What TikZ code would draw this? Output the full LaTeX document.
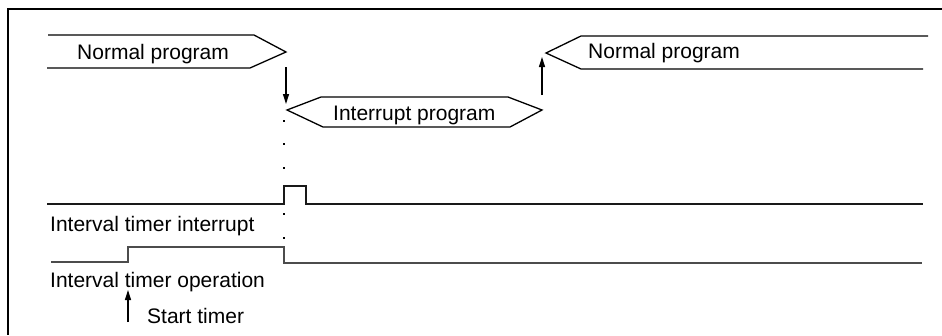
\documentclass[tikz,border=0pt]{standalone}
\usepackage{fontspec}
\setmainfont{Liberation Sans}
\usetikzlibrary{arrows.meta}
\begin{document}
\begin{tikzpicture}[x=1pt,y=-1pt,
  lbl/.style={anchor=base west,inner sep=0pt,font=\fontsize{21}{25}\selectfont},
  outline/.style={line width=1.3pt,line join=miter},
  sig/.style={line width=1.8pt,black!80},
  evarrow/.style={line width=1.3pt,-{Triangle[length=10pt,width=6pt]}},
  dotmark/.style={fill=black,inner sep=0pt,minimum size=1.8pt,shape=rectangle}]
\useasboundingbox (0,0) rectangle (942,335);
% frame
\draw[outline] (942,9) -- (8,9) -- (8,335);
% left normal program
\coordinate (n1tl) at (48,35);
\coordinate (n1tr) at (254,35);
\coordinate (n1p) at (286,52);
\coordinate (n1br) at (250,68);
\coordinate (n1bl) at (47,68);
\draw[outline] (n1tl) -- (n1tr) -- (n1p) -- (n1br) -- (n1bl);
\node[lbl] (n1) at (77,59) {Normal program};
% interrupt program
\coordinate (ipl) at (287,110);
\coordinate (iptl) at (321,97);
\coordinate (iptr) at (508,97);
\coordinate (ipr) at (542,110);
\coordinate (ipbr) at (510,127);
\coordinate (ipbl) at (323,127);
\draw[outline] (ipl) -- (iptl) -- (iptr) -- (ipr) -- (ipbr) -- (ipbl) -- cycle;
\node[lbl] (ip) at (333,120) {Interrupt program};
% right normal program
\coordinate (n2p) at (546,53);
\coordinate (n2tl) at (581,36);
\coordinate (n2tr) at (928,36);
\coordinate (n2bl) at (581,69);
\coordinate (n2br) at (923,69);
\draw[outline] (n2tr) -- (n2tl) -- (n2p) -- (n2bl) -- (n2br);
\node[lbl] (n2) at (588,58) {Normal program};
% arrows between programs
\coordinate (a1s) at (286,67);
\coordinate (a1e) at (286,104);
\draw[evarrow] (a1s) -- (a1e);
\coordinate (a2s) at (542,95);
\coordinate (a2e) at (542,57);
\draw[evarrow] (a2s) -- (a2e);
% dots
\node[dotmark] (d1) at (284,121) {};
\node[dotmark] (d2) at (284,144) {};
\node[dotmark] (d3) at (284,168) {};
\node[dotmark] (d4) at (284,214) {};
\node[dotmark] (d5) at (284,238) {};
% interval timer interrupt signal
\draw[sig,black!90] (47,204) -- (284,204) -- (284,186) -- (306,186) -- (306,204) -- (923,204);
\node[lbl] (iti) at (50,231) {Interval timer interrupt};
% interval timer operation signal
\draw[sig,black!70] (51,262) -- (128,262) -- (128,247) -- (284,247) -- (284,263) -- (922,263);
\node[lbl] (ito) at (50,287) {Interval timer operation};
% start timer
\coordinate (sts) at (128,322);
\coordinate (ste) at (128,290);
\draw[evarrow] (sts) -- (ste);
\node[lbl] (st) at (147,323) {Start timer};
\end{tikzpicture}
\end{document}
